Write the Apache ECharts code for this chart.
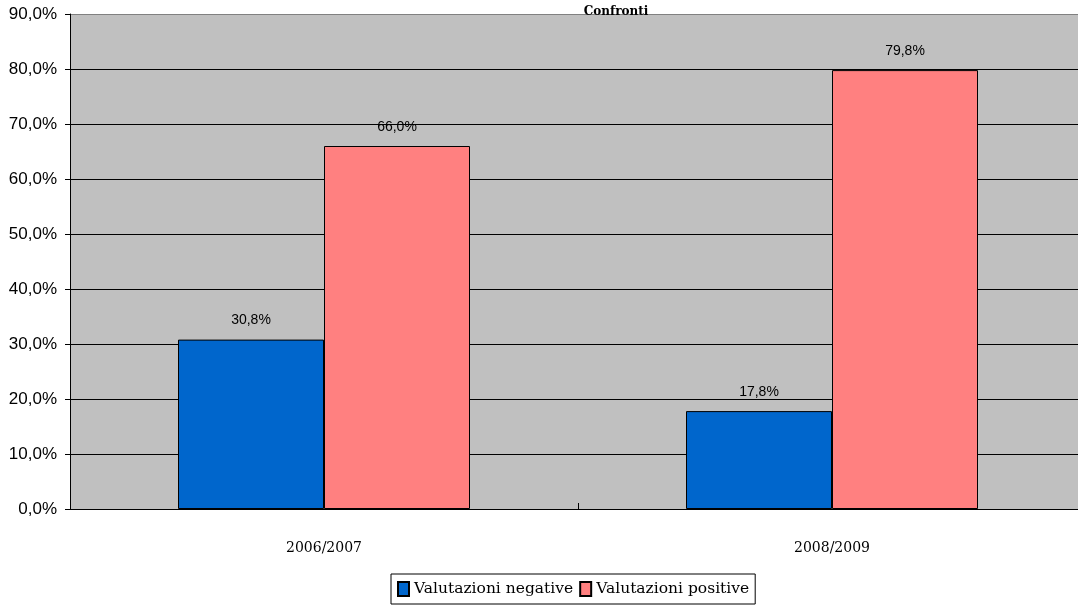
<!DOCTYPE html>
<html><head><meta charset="utf-8">
<script src="https://cdn.jsdelivr.net/npm/echarts@6/dist/echarts.min.js"></script>
<style>html,body{margin:0;padding:0;background:#fff;overflow:hidden}#c{width:1086px;height:613px}</style>
</head><body><div id="c"></div>
<script>
const categories = ['2006/2007', '2008/2009'];
const negativeValues = [30.8, 17.8];
const positiveValues = [66.0, 79.8];
const seriesNames = ['Valutazioni negative', 'Valutazioni positive'];
const chart = echarts.init(document.getElementById('c'));
const fmt = v => v.toFixed(1).replace('.', ',') + '%';
const labelCfg = {
  show: true, position: 'top', distance: 12,
  fontFamily: 'Liberation Sans, Arial', fontSize: 14, color: '#000',
  formatter: p => fmt(p.value)
};
chart.setOption({
  animation: false,
  title: {
    text: 'Confronti', left: 611, top: 1, textAlign: 'center',
    textStyle: { fontFamily: 'DejaVu Serif', fontWeight: 'bold', fontSize: 12, color: '#000' }
  },
  grid: { left: 70, top: 14, right: 0, height: 495, show: true, backgroundColor: '#c0c0c0', borderWidth: 0 },
  legend: {
    bottom: 9, left: 391, data: seriesNames,
    itemWidth: 11, itemHeight: 14, itemGap: 6,
    borderColor: '#000', borderWidth: 1, padding: [7, 6, 7, 6],
    icon: 'rect',
    textStyle: { fontFamily: 'DejaVu Serif', fontSize: 15.5, color: '#000' }
  },
  xAxis: {
    type: 'category', data: categories,
    axisLine: { lineStyle: { color: '#000', width: 1 } },
    axisTick: { show: true, inside: true, length: 6, lineStyle: { color: '#000' } },
    axisLabel: { margin: 32, fontFamily: 'DejaVu Serif', fontSize: 14, color: '#000' }
  },
  yAxis: {
    type: 'value', min: 0, max: 90, interval: 10,
    axisLine: { show: true, lineStyle: { color: '#000' } },
    axisTick: { show: true, length: 5, lineStyle: { color: '#000' } },
    axisLabel: { margin: 13, fontFamily: 'Liberation Sans, Arial', fontSize: 17, color: '#000', formatter: v => fmt(v) },
    splitLine: { show: true, lineStyle: { color: ['#000','#000','#000','#000','#000','#000','#000','#000','#000','#808080'], width: 1 } }
  },
  series: [
    { name: seriesNames[0], type: 'bar', data: negativeValues, barWidth: 146, barGap: '0%',
      itemStyle: { color: '#0066cc', borderColor: '#000', borderWidth: 1 }, label: labelCfg },
    { name: seriesNames[1], type: 'bar', data: positiveValues, barWidth: 146, barGap: '0%',
      itemStyle: { color: '#ff8080', borderColor: '#000', borderWidth: 1 }, label: labelCfg }
  ]
});
</script></body></html>
